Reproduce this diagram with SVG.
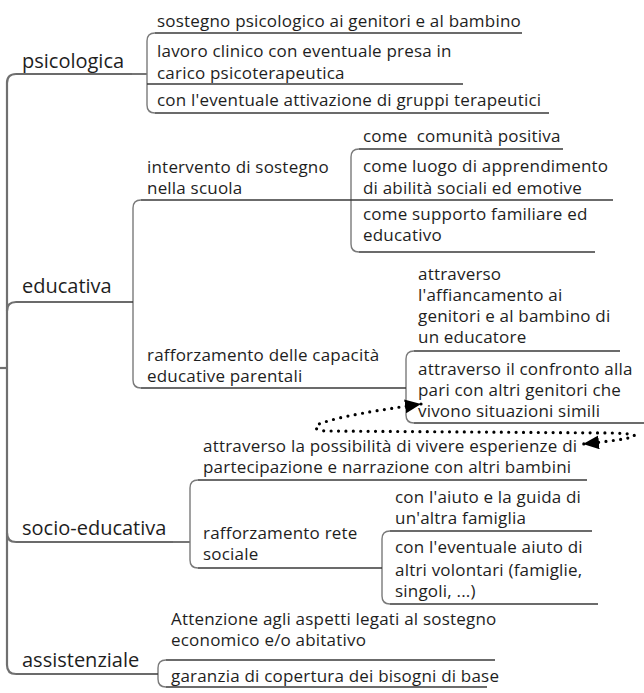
<svg xmlns="http://www.w3.org/2000/svg" width="644" height="693" viewBox="0 0 644 693">
  <style>
    text { font-family: "Open Sans", "Noto Sans", "DejaVu Sans", sans-serif; fill: #1e1e1e; }
    .topic { font-size: 20px; }
    .sub { font-size: 17px; letter-spacing: 0.2px; }
    .u { fill: none; stroke: #3a3a3a; stroke-width: 1.4; }
    .b { fill: none; stroke: #7a7a7a; stroke-width: 1.4; }
    .root { fill: none; stroke: #707070; stroke-width: 2.2; }
    .rel { fill: none; stroke: #000; stroke-width: 3.2; stroke-linecap: round; stroke-dasharray: 0 7.4; }
  </style>
  <defs>
    <marker id="tri" viewBox="0 0 16 14" refX="16" refY="7" markerWidth="16" markerHeight="14" markerUnits="userSpaceOnUse" orient="auto-start-reverse">
      <path d="M0,0 L16,7 L0,14 z" fill="#000"/>
    </marker>
  </defs>

  <!-- tree lines: root spine, topic corners and brackets -->
  <g id="connectors">
    <path class="root" d="M 0 368 H 7"/>
    <path class="root" d="M 16 74 Q 7 74 7 83 V 665 Q 7 674 16 674"/>
    <path class="root" d="M 7 311 Q 7 302 16 302"/>
    <path class="root" d="M 7 533 Q 7 542 16 542"/>
    <path class="u" d="M 132 74 H 147"/>
    <path class="u" d="M 173 542 H 190"/>
    <path class="b" d="M 155 33 Q 147 33 147 41 V 105 Q 147 113 155 113"/>
    <path class="b" d="M 141 200 Q 133 200 133 208 V 380 Q 133 388 141 388"/>
    <path class="b" d="M 359 149 Q 351 149 351 157 V 244 Q 351 252 359 252"/>
    <path class="b" d="M 414 351 Q 406 351 406 359 V 415 Q 406 423 414 423"/>
    <path class="b" d="M 198 480 Q 190 480 190 488 V 560 Q 190 568 198 568"/>
    <path class="b" d="M 390 531 Q 382 531 382 539 V 596 Q 382 604 390 604"/>
    <path class="b" d="M 166 660 Q 158 660 158 668 V 679 Q 158 687 166 687"/>
    <!-- dotted relationship between the two peer-support nodes -->
    <path class="rel" marker-start="url(#tri)" marker-end="url(#tri)" d="M 421 404 C 380 410, 340 416, 319 424 C 312 427, 316 431, 328 431 L 612 433 C 648 434, 642 438, 583 444"/>
  </g>

  <!-- psicologica -->
  <g id="psicologica">
    <text class="topic" x="22" y="68">psicologica</text>
    <path class="u" d="M 16 74 H 132"/>
  </g>
  <g id="psi-sostegno">
    <text class="sub" x="157" y="27">sostegno psicologico ai genitori e al bambino</text>
    <path class="u" d="M 155 33 H 522"/>
  </g>
  <g id="psi-clinico">
    <text class="sub" x="157" y="57">lavoro clinico con eventuale presa in</text>
    <text class="sub" x="157" y="79">carico psicoterapeutica</text>
    <path class="u" d="M 147 84 H 463"/>
  </g>
  <g id="psi-gruppi">
    <text class="sub" x="157" y="106">con l'eventuale attivazione di gruppi terapeutici</text>
    <path class="u" d="M 155 113 H 549"/>
  </g>

  <!-- educativa -->
  <g id="educativa">
    <text class="topic" x="22" y="293">educativa</text>
    <path class="u" d="M 16 302 H 133"/>
  </g>
  <g id="edu-scuola">
    <text class="sub" x="147" y="173">intervento di sostegno</text>
    <text class="sub" x="147" y="194">nella scuola</text>
    <path class="u" d="M 141 200 H 351"/>
  </g>
  <g id="scuola-comunita">
    <text class="sub" x="363" y="142" style="white-space:pre">come  comunità positiva</text>
    <path class="u" d="M 359 149 H 563"/>
  </g>
  <g id="scuola-apprendimento">
    <text class="sub" x="363" y="172">come luogo di apprendimento</text>
    <text class="sub" x="363" y="194">di abilità sociali ed emotive</text>
    <path class="u" d="M 351 200 H 613"/>
  </g>
  <g id="scuola-supporto">
    <text class="sub" x="363" y="220">come supporto familiare ed</text>
    <text class="sub" x="363" y="241">educativo</text>
    <path class="u" d="M 359 252 H 595"/>
  </g>
  <g id="edu-parentali">
    <text class="sub" x="147" y="361">rafforzamento delle capacità</text>
    <text class="sub" x="147" y="382">educative parentali</text>
    <path class="u" d="M 141 388 H 406"/>
  </g>
  <g id="parentali-educatore">
    <text class="sub" x="418" y="280">attraverso</text>
    <text class="sub" x="418" y="301">l'affiancamento ai</text>
    <text class="sub" x="418" y="322">genitori e al bambino di</text>
    <text class="sub" x="418" y="343">un educatore</text>
    <path class="u" d="M 414 351 H 620"/>
  </g>
  <g id="parentali-confronto">
    <text class="sub" x="418" y="375">attraverso il confronto alla</text>
    <text class="sub" x="418" y="396">pari con altri genitori che</text>
    <text class="sub" x="418" y="417">vivono situazioni simili</text>
    <path class="u" d="M 414 423 H 644"/>
  </g>

  <!-- socio-educativa -->
  <g id="socio-educativa">
    <text class="topic" x="22" y="535">socio-educativa</text>
    <path class="u" d="M 16 542 H 173"/>
  </g>
  <g id="socio-esperienze">
    <text class="sub" x="203" y="452">attraverso la possibilità di vivere esperienze di</text>
    <text class="sub" x="203" y="473">partecipazione e narrazione con altri bambini</text>
    <path class="u" d="M 198 480 H 587"/>
  </g>
  <g id="socio-rete">
    <text class="sub" x="203" y="539">rafforzamento rete</text>
    <text class="sub" x="203" y="560">sociale</text>
    <path class="u" d="M 198 568 H 382"/>
  </g>
  <g id="rete-famiglia">
    <text class="sub" x="395" y="503">con l'aiuto e la guida di</text>
    <text class="sub" x="395" y="524">un'altra famiglia</text>
    <path class="u" d="M 390 531 H 592"/>
  </g>
  <g id="rete-volontari">
    <text class="sub" x="395" y="553">con l'eventuale aiuto di</text>
    <text class="sub" x="395" y="576">altri volontari (famiglie,</text>
    <text class="sub" x="395" y="597">singoli, ...)</text>
    <path class="u" d="M 390 604 H 598"/>
  </g>

  <!-- assistenziale -->
  <g id="assistenziale">
    <text class="topic" x="22" y="667">assistenziale</text>
    <path class="u" d="M 16 674 H 158"/>
  </g>
  <g id="assist-economico">
    <text class="sub" x="171" y="625">Attenzione agli aspetti legati al sostegno</text>
    <text class="sub" x="171" y="646">economico e/o abitativo</text>
    <path class="u" d="M 166 660 H 495"/>
  </g>
  <g id="assist-base">
    <text class="sub" x="171" y="682">garanzia di copertura dei bisogni di base</text>
    <path class="u" d="M 166 687 H 487"/>
  </g>
</svg>
